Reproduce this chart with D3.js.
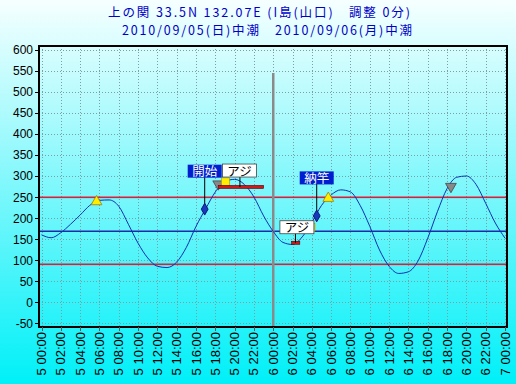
<!DOCTYPE html>
<html><head><meta charset="utf-8">
<script src="https://cdn.jsdelivr.net/npm/d3@7"></script>
<style>html,body{margin:0;padding:0;overflow:hidden}</style>
</head><body>
<svg id="c" width="516" height="384"></svg>
<script>
// ---- data ----
const titleLines = ["上の関 33.5N 132.07E (I島(山口)　調整 0分)", "2010/09/05(日)中潮　2010/09/06(月)中潮"];
const hours = d3.range(0, 49);
const tide = [160,153,165,185,207,230,242,243,228,185,140,105,85,82,95,130,180,222,262,287,292,280,250,205,168,142,137,155,190,230,255,267,262,230,180,124,85,68,72,98,152,215,270,297,300,280,235,188,152];
const yTicks = [600,550,500,450,400,350,300,250,200,150,100,50,0,-50];
const xTickHours = d3.range(0, 49, 2);
const xTickLabels = xTickHours.map(h => (h < 24 ? "5 " : h < 48 ? "6 " : "7 ") + String(h % 24).padStart(2, "0") + ":00");
const refRed = [250, 90];
const refBlue = [170];
const highMarks = [{h:5.7, v:239}, {h:29.7, v:247}];      // yellow triangles
const grayMarks = [{h:18.3, v:281}, {h:42.4, v:275}];     // gray triangles
const eventMarks = [{h:16.9, v:221, label:"開始"}, {h:28.5, v:205, label:"納竿"}];
const catchLabels = [{h:20.55, v:274, label:"アジ", lh:20.5, lv:313}, {h:26.3, v:141, label:"アジ", lh:26.45, lv:178}];
const catchBars = [{h0:18.3, h1:23.0, v:274}, {h0:25.9, h1:26.75, v:141}];
const yellowSq = [{h:19.05, v:286}, {h:27.9, v:177}];
const dayDivider = 24;

// ---- layout ----
const svg = d3.select("#c");
const W = 516, H = 384;
const x = d3.scaleLinear().domain([0, 48]).range([41.5, 505]);
const y = d3.scaleLinear().domain([-59.5, 609.5]).range([327, 46]);
const plot = {l:39, r:507, t:46, b:327};
const py = v => Math.round(y(v)) + 0.5;
const px = h => Math.round(x(h)) + 0.5;

const defs = svg.append("defs");
const g = defs.append("linearGradient").attr("id","bg").attr("x1",0).attr("y1",0).attr("x2",0).attr("y2",1);
g.append("stop").attr("offset","0%").attr("stop-color","#f6ffff");
g.append("stop").attr("offset","100%").attr("stop-color","#00f0f8");
svg.append("rect").attr("width",W).attr("height",H).attr("fill","url(#bg)");

// title
svg.selectAll("text.title").data(titleLines).join("text").attr("class","title")
  .attr("x", (d,i)=> i===0 ? 108 : 122).attr("y", (d,i)=> 17 + i*18)
  .attr("textLength",(d,i)=> i===0 ? 302 : 290).attr("lengthAdjust","spacing")
  .attr("fill","#0000c8")
  .attr("font-family","'Noto Sans CJK JP', sans-serif").attr("font-size",12.5)
  .text(d=>d);

// grid
const grid = svg.append("g").attr("stroke","#7a9fa4").attr("stroke-width",1).attr("stroke-dasharray","1,2");
grid.selectAll("line.gh").data(yTicks).join("line").attr("class","gh")
  .attr("x1",plot.l).attr("x2",plot.r).attr("y1",py).attr("y2",py);
grid.selectAll("line.gv").data(xTickHours).join("line").attr("class","gv")
  .attr("y1",plot.t).attr("y2",plot.b).attr("x1",px).attr("x2",px);

// reference lines (filled bands so they read solid)
svg.selectAll("rect.refred").data(refRed).join("rect").attr("class","refred")
  .attr("x",plot.l).attr("width",plot.r-plot.l).attr("y",d=>Math.round(y(d))-0.5).attr("height",1.6)
  .attr("fill","#d8203c");
svg.selectAll("rect.refblue").data(refBlue).join("rect").attr("class","refblue")
  .attr("x",plot.l).attr("width",plot.r-plot.l).attr("y",d=>Math.round(y(d))-0.5).attr("height",1.5)
  .attr("fill","#1a2aa8");

// day divider
svg.append("line").attr("x1",x(dayDivider)).attr("x2",x(dayDivider)).attr("y1",73).attr("y2",plot.b)
  .attr("stroke","#8a8a8a").attr("stroke-width",2.5);

// tide curve
svg.append("path").datum(hours.map((h,i)=>[h,tide[i]]))
  .attr("d", d3.line().x(d=>x(d[0])).y(d=>y(d[1])).curve(d3.curveMonotoneX))
  .attr("fill","none").attr("stroke","#1030b0").attr("stroke-width",1);

// frame
svg.append("rect").attr("x",plot.l).attr("y",plot.t).attr("width",plot.r-plot.l).attr("height",plot.b-plot.t)
  .attr("fill","none").attr("stroke","#000").attr("stroke-width",2);

// y axis labels
svg.selectAll("text.yl").data(yTicks).join("text").attr("class","yl")
  .attr("x",33).attr("y",d=>y(d)+4.5).attr("text-anchor","end")
  .attr("font-family","'Liberation Sans', Arial, sans-serif").attr("font-size",12).attr("fill","#000")
  .text(d=>d);
svg.selectAll("line.yt").data(yTicks).join("line").attr("class","yt")
  .attr("x1",35).attr("x2",plot.l).attr("y1",py).attr("y2",py)
  .attr("stroke","#000");

// x axis labels
svg.selectAll("line.xt").data(xTickHours).join("line").attr("class","xt")
  .attr("x1",px).attr("x2",px).attr("y1",plot.b).attr("y2",plot.b+4)
  .attr("stroke","#555");
svg.selectAll("text.xl").data(xTickHours).join("text").attr("class","xl")
  .attr("transform",d=>`translate(${x(d)+4.5},332) rotate(-90)`)
  .attr("text-anchor","end")
  .attr("font-family","'Liberation Sans', Arial, sans-serif").attr("font-size",13).attr("fill","#000")
  .text((d,i)=>xTickLabels[i]);

// high tide triangles
const tri = d3.symbol().type(d3.symbolTriangle).size(50);
svg.selectAll("path.hi").data(highMarks).join("path").attr("class","hi")
  .attr("d",tri).attr("transform",d=>`translate(${x(d.h)},${y(d.v)})`)
  .attr("fill","#ffee00").attr("stroke","#a08000").attr("stroke-width",0.8);
svg.selectAll("path.gr").data(grayMarks).join("path").attr("class","gr")
  .attr("d",tri).attr("transform",d=>`translate(${x(d.h)},${y(d.v)}) rotate(180)`)
  .attr("fill","#888").attr("stroke","#444").attr("stroke-width",0.8);

// yellow squares + catch bars
svg.selectAll("rect.ys").data(yellowSq).join("rect").attr("class","ys")
  .attr("x",d=>x(d.h)-4).attr("y",d=>y(d.v)-4).attr("width",8).attr("height",8)
  .attr("fill","#ffee00").attr("stroke","#b09000").attr("stroke-width",0.6);
svg.selectAll("rect.cb").data(catchBars).join("rect").attr("class","cb")
  .attr("x",d=>x(d.h0)).attr("y",d=>y(d.v)-1.5).attr("width",d=>x(d.h1)-x(d.h0)).attr("height",3)
  .attr("fill","#d01818").attr("stroke","#500").attr("stroke-width",0.6);

// event markers (開始 / 納竿)
svg.selectAll("line.el").data(eventMarks).join("line").attr("class","el")
  .attr("x1",d=>x(d.h)).attr("x2",d=>x(d.h)).attr("y1",d=>y(d.v)).attr("y2",d=>y(d.v)-32)
  .attr("stroke","#000");
svg.selectAll("path.dm").data(eventMarks).join("path").attr("class","dm")
  .attr("d",d3.symbol().type(d3.symbolDiamond).size(40))
  .attr("transform",d=>`translate(${x(d.h)},${y(d.v)})`).attr("fill","#1838c0").attr("stroke","#0a1a70");
const ev = svg.selectAll("g.ev").data(eventMarks).join("g").attr("class","ev")
  .attr("transform",d=>`translate(${x(d.h)},${y(d.v)-38})`);
ev.append("rect").attr("x",-17).attr("y",-6.5).attr("width",34).attr("height",13).attr("fill","#0020d0");
ev.append("text").attr("text-anchor","middle").attr("y",5).attr("fill","#fff")
  .attr("font-family","'Noto Sans CJK JP', sans-serif").attr("font-size",12.5).text(d=>d.label);

// catch labels (アジ)
svg.selectAll("line.cl").data(catchLabels).join("line").attr("class","cl")
  .attr("x1",d=>x(d.h)).attr("x2",d=>x(d.h)).attr("y1",d=>y(d.v)).attr("y2",d=>y(d.lv))
  .attr("stroke","#000");
const cl = svg.selectAll("g.cl").data(catchLabels).join("g").attr("class","cl")
  .attr("transform",d=>`translate(${x(d.lh)},${y(d.lv)})`);
cl.append("rect").attr("x",-17).attr("y",-6.5).attr("width",34).attr("height",13)
  .attr("fill","#fff").attr("stroke","#444").attr("stroke-width",0.8);
cl.append("text").attr("text-anchor","middle").attr("y",5).attr("fill","#000")
  .attr("font-family","'Noto Sans CJK JP', sans-serif").attr("font-size",12.5).text(d=>d.label);
</script>
</body></html>
